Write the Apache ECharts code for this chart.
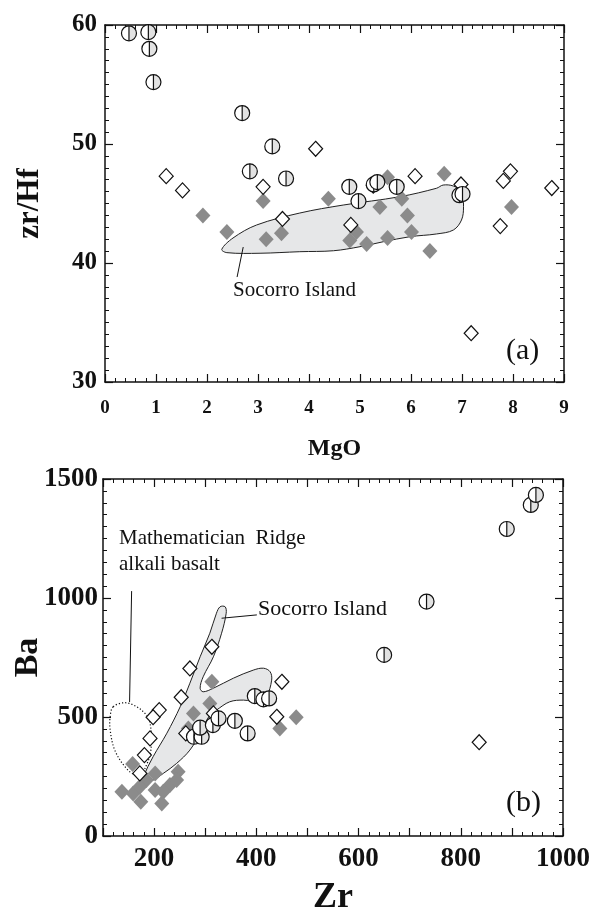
<!DOCTYPE html>
<html><head><meta charset="utf-8">
<script src="https://cdn.jsdelivr.net/npm/echarts@6/dist/echarts.min.js"></script>
<style>html,body{margin:0;padding:0;background:#fff}#c{width:597px;height:911px}</style>
</head><body><div id="c"></div>
<script>
// ---------- Panel (a): MgO vs Zr/Hf ----------
const circleMgO  = [0.47, 0.85, 0.87, 0.95, 2.69, 3.28, 2.84, 3.55, 4.79, 4.97, 5.27, 5.34, 5.72, 6.95, 7.01];
const circleZrHf = [59.3, 59.4, 58.0, 55.2, 52.6, 49.8, 47.7, 47.1, 46.4, 45.2, 46.6, 46.8, 46.4, 45.7, 45.8];
const openMgO  = [1.2, 1.52, 3.1, 4.13, 3.48, 4.82, 5.26, 6.08, 6.98, 7.81, 7.95, 8.76, 7.75, 7.18];
const openZrHf = [47.3, 46.1, 46.4, 49.6, 43.7, 43.2, 46.5, 47.3, 46.6, 46.9, 47.7, 46.3, 43.1, 34.1];
const greyMgO  = [1.92, 2.39, 3.1, 3.16, 3.46, 4.38, 5.54, 5.39, 5.82, 5.93, 6.01, 4.93, 4.8, 5.13, 5.54, 6.37, 6.65, 7.97];
const greyZrHf = [44.0, 42.6, 45.2, 42.0, 42.5, 45.4, 47.2, 44.7, 45.4, 44.0, 42.6, 42.6, 41.9, 41.6, 42.1, 41.0, 47.5, 44.7];
// Socorro Island field (a)
const socAMgO  = [2.29, 2.39, 3.04, 3.82, 4.48, 5.0, 5.46, 5.98, 6.50, 6.83, 6.99, 7.03, 6.99, 6.83, 6.63, 6.50, 5.78, 4.67, 3.82, 2.97, 2.51];
const socAZrHf = [41.15, 40.87, 40.82, 40.95, 41.03, 41.37, 41.79, 42.21, 42.44, 42.77, 43.61, 44.73, 45.99, 46.47, 46.55, 46.28, 45.57, 44.87, 44.2, 43.19, 42.1];
const leaderAMgO  = [2.71, 2.59];
const leaderAZrHf = [41.34, 38.82];
const ticksAX = [0,1,2,3,4,5,6,7,8,9];
const ticksAY = [30,40,50,60];

// ---------- Panel (b): Zr vs Ba ----------
const circleZr = [278, 293, 290, 315, 326, 358, 383, 397, 414, 425, 650, 733, 890, 937, 947];
const circleBa = [417, 417, 455, 466, 494, 484, 431, 588, 574, 578, 761, 985, 1290, 1391, 1433];
const openZr = [313, 270, 253, 450, 440, 210, 198, 192, 181, 172, 316, 262, 836];
const openBa = [795, 704, 583, 648, 501, 529, 499, 410, 340, 263, 515, 431, 394];
const greyZr = [313, 309, 277, 267, 446, 478, 158, 137, 159, 174, 215, 185, 202, 202, 231, 247, 218, 244, 172];
const greyBa = [648, 557, 515, 452, 452, 499, 303, 186, 179, 144, 137, 235, 263, 193, 214, 270, 186, 235, 207];
// Socorro Island field (b)
const socBZr = [179, 198, 225, 251, 270, 290, 309, 322, 329, 339, 341, 332, 316, 296, 290, 296, 316, 355, 394, 414, 427, 430, 420, 407, 375, 348, 322, 309, 290, 270, 244, 218, 198, 179];
const socBBa = [249, 333, 432, 543, 642, 753, 852, 936, 963, 963, 936, 852, 753, 669, 621, 606, 621, 663, 697, 705, 690, 655, 585, 564, 571, 564, 529, 508, 432, 361, 305, 263, 235, 228];
// Mathematician Ridge alkali basalt field (dotted)
const mrZr = [120, 143, 166, 185, 192, 195, 192, 185, 176, 163, 143, 123, 114, 114];
const mrBa = [543, 560, 543, 508, 474, 403, 340, 298, 263, 256, 291, 361, 445, 501];
const leaderSocBZr = [332, 401];
const leaderSocBBa = [915, 929];
const leaderMRZr = [156, 152];
const leaderMRBa = [1029, 563];
const ticksBX = [200, 400, 600, 800, 1000];
const ticksBY = [0, 500, 1000, 1500];

const FONT = '"Liberation Serif","Times New Roman",serif';
const zip = (a, b) => a.map((v, i) => [v, b[i]]);

function axisBase(extra) {
  return Object.assign({
    type: 'value',
    nameMoveOverlap: false,
    axisLine: { show: true, onZero: false, lineStyle: { color: '#111', width: 1.5 } },
    axisTick: { show: true, inside: true, length: 8, lineStyle: { color: '#111', width: 1.2 } },
    minorTick: { show: true, length: 4, lineStyle: { color: '#111', width: 1 } },
    splitLine: { show: false },
    minorSplitLine: { show: false }
  }, extra);
}
const minor = n => ({ show: true, splitNumber: n, length: 4, lineStyle: { color: '#111', width: 1 } });

function halfCircle(params, api) {
  const p = api.coord([api.value(0), api.value(1)]);
  const r = 7.5;
  return {
    type: 'group',
    children: [
      { type: 'circle', shape: { cx: p[0], cy: p[1], r: r }, style: { fill: '#fff', stroke: null } },
      { type: 'sector', shape: { cx: p[0], cy: p[1], r0: 0, r: r, startAngle: -Math.PI / 2, endAngle: Math.PI / 2, clockwise: true }, style: { fill: '#e2e2e2' } },
      { type: 'line', shape: { x1: p[0], y1: p[1] - r, x2: p[0], y2: p[1] + r }, style: { stroke: '#111', lineWidth: 1.2 } },
      { type: 'circle', shape: { cx: p[0], cy: p[1], r: r }, style: { fill: null, stroke: '#111', lineWidth: 1.2 } }
    ]
  };
}

function polySeries(xi, yi, xs, ys, style, z) {
  return {
    type: 'custom', xAxisIndex: xi, yAxisIndex: yi, silent: true, z: z,
    data: [[xs[0], ys[0]]],
    renderItem: function (params, api) {
      const pts = xs.map((x, i) => api.coord([x, ys[i]]));
      return { type: 'polygon', shape: { points: pts, smooth: 0.35 }, style: style };
    }
  };
}
function lineSeries(xi, yi, xs, ys) {
  return {
    type: 'line', xAxisIndex: xi, yAxisIndex: yi, silent: true, z: 3,
    data: zip(xs, ys), symbol: 'none', lineStyle: { color: '#111', width: 1 }, animation: false
  };
}

const labelA = { fontFamily: FONT, fontWeight: 'bold', color: '#111' };

const option = {
  animation: false,
  backgroundColor: '#fff',
  grid: [
    { left: 105, top: 25, width: 459, height: 357, outerBoundsMode: 'none', containLabel: false },
    { left: 103, top: 479, width: 460, height: 357, outerBoundsMode: 'none', containLabel: false }
  ],
  xAxis: [
    axisBase({ gridIndex: 0, min: 0, max: 9, interval: 1, position: 'bottom', minorTick: minor(5),
      axisLabel: Object.assign({ fontSize: 19, margin: 17, interval: 0, formatter: v => ticksAX.includes(v) ? String(v) : '' }, labelA),
      name: 'MgO', nameLocation: 'middle', nameGap: 55, nameTextStyle: { fontFamily: FONT, fontWeight: 'bold', fontSize: 24, color: '#111' } }),
    axisBase({ gridIndex: 0, min: 0, max: 9, interval: 1, position: 'top', minorTick: minor(5), axisLabel: { show: false } }),
    axisBase({ gridIndex: 1, min: 100, max: 1000, interval: 100, position: 'bottom', minorTick: minor(5),
      axisLabel: Object.assign({ fontSize: 27, margin: 10, interval: 0, formatter: v => ticksBX.includes(v) ? String(v) : '' }, labelA),
      name: 'Zr', nameLocation: 'middle', nameGap: 44, nameTextStyle: { fontFamily: FONT, fontWeight: 'bold', fontSize: 36, color: '#111' } }),
    axisBase({ gridIndex: 1, min: 100, max: 1000, interval: 100, position: 'top', minorTick: minor(5), axisLabel: { show: false } })
  ],
  yAxis: [
    axisBase({ gridIndex: 0, min: 30, max: 60, interval: 10, position: 'left', minorTick: minor(10),
      axisLabel: Object.assign({ fontSize: 25, margin: 8, formatter: v => ticksAY.includes(v) ? String(v) : '' }, labelA),
      name: 'zr/Hf', nameLocation: 'middle', nameGap: 60, nameRotate: 90, nameTextStyle: { fontFamily: FONT, fontWeight: 'bold', fontSize: 31, color: '#111' } }),
    axisBase({ gridIndex: 1, min: 0, max: 1500, interval: 500, position: 'left', minorTick: minor(10),
      axisLabel: Object.assign({ fontSize: 27, margin: 5, formatter: v => ticksBY.includes(v) ? String(v) : '' }, labelA),
      name: 'Ba', nameLocation: 'middle', nameGap: 58, nameRotate: 90, nameTextStyle: { fontFamily: FONT, fontWeight: 'bold', fontSize: 34, color: '#111' } }),
    axisBase({ gridIndex: 0, min: 30, max: 60, interval: 10, position: 'right', minorTick: minor(10), axisLabel: { show: false } }),
    axisBase({ gridIndex: 1, min: 0, max: 1500, interval: 500, position: 'right', minorTick: minor(10), axisLabel: { show: false } })
  ],
  series: [
    // panel a
    polySeries(0, 0, socAMgO, socAZrHf, { fill: '#e6e7e8', stroke: '#222', lineWidth: 1 }, 1),
    lineSeries(0, 0, leaderAMgO, leaderAZrHf),
    { type: 'scatter', xAxisIndex: 0, yAxisIndex: 0, data: zip(greyMgO, greyZrHf), symbol: 'diamond', symbolSize: [15, 16], itemStyle: { color: '#8b8b8b', opacity: 1 }, z: 4, silent: true },
    { type: 'scatter', xAxisIndex: 0, yAxisIndex: 0, data: zip(openMgO, openZrHf), symbol: 'diamond', symbolSize: [14, 15], itemStyle: { color: '#fff', borderColor: '#111', borderWidth: 1.2, opacity: 1 }, z: 5, silent: true },
    { type: 'custom', xAxisIndex: 0, yAxisIndex: 0, data: zip(circleMgO, circleZrHf), renderItem: halfCircle, z: 6, silent: true },
    // panel b
    polySeries(2, 1, socBZr, socBBa, { fill: '#e6e7e8', stroke: '#222', lineWidth: 1 }, 1),
    polySeries(2, 1, mrZr, mrBa, { fill: null, stroke: '#111', lineWidth: 1.2, lineDash: [1.2, 2] }, 2),
    lineSeries(2, 1, leaderSocBZr, leaderSocBBa),
    lineSeries(2, 1, leaderMRZr, leaderMRBa),
    { type: 'scatter', xAxisIndex: 2, yAxisIndex: 1, data: zip(greyZr, greyBa), symbol: 'diamond', symbolSize: [15, 16], itemStyle: { color: '#8b8b8b', opacity: 1 }, z: 4, silent: true },
    { type: 'scatter', xAxisIndex: 2, yAxisIndex: 1, data: zip(openZr, openBa), symbol: 'diamond', symbolSize: [14, 15], itemStyle: { color: '#fff', borderColor: '#111', borderWidth: 1.2, opacity: 1 }, z: 5, silent: true },
    { type: 'custom', xAxisIndex: 2, yAxisIndex: 1, data: zip(circleZr, circleBa), renderItem: halfCircle, z: 6, silent: true }
  ],
  graphic: [
    { type: 'text', left: 233, top: 280, style: { text: 'Socorro Island', font: '21px ' + FONT, fill: '#111' } },
    { type: 'text', left: 506, top: 336, style: { text: '(a)', font: '30px ' + FONT, fill: '#111' } },
    { type: 'text', left: 119, top: 528, style: { text: 'Mathematician  Ridge', font: '21px ' + FONT, fill: '#111' } },
    { type: 'text', left: 119, top: 554, style: { text: 'alkali basalt', font: '21px ' + FONT, fill: '#111' } },
    { type: 'text', left: 258, top: 598, style: { text: 'Socorro Island', font: '22px ' + FONT, fill: '#111' } },
    { type: 'text', left: 506, top: 788, style: { text: '(b)', font: '30px ' + FONT, fill: '#111' } }
  ]
};

const chart = echarts.init(document.getElementById('c'), null, { renderer: 'canvas' });
chart.setOption(option);
</script>
</body></html>
